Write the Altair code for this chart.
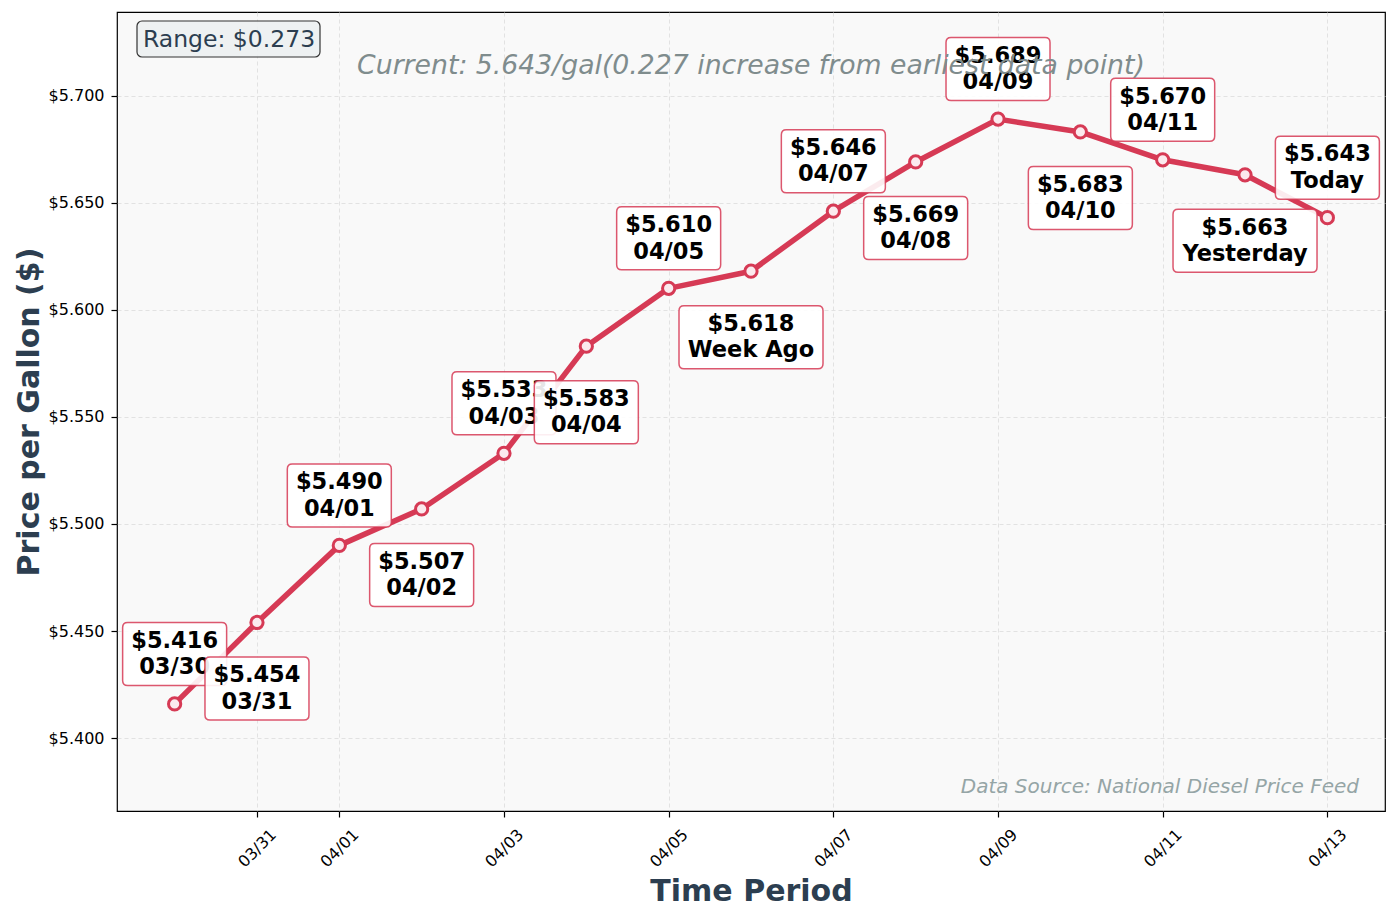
import altair as alt
import pandas as pd

# ---- data ----
dates = ["03/30", "03/31", "04/01", "04/02", "04/03", "04/04", "04/05", "04/06",
         "04/07", "04/08", "04/09", "04/10", "04/11", "04/12", "04/13"]
prices = [5.416, 5.454, 5.490, 5.507, 5.533, 5.583, 5.610, 5.618,
          5.646, 5.669, 5.689, 5.683, 5.670, 5.663, 5.643]
tags = ["03/30", "03/31", "04/01", "04/02", "04/03", "04/04", "04/05", "Week Ago",
        "04/07", "04/08", "04/09", "04/10", "04/11", "Yesterday", "Today"]
tick_dates = ["03/31", "04/01", "04/03", "04/05", "04/07", "04/09", "04/11", "04/13"]
y_ticks = [5.40, 5.45, 5.50, 5.55, 5.60, 5.65, 5.70]

RED = "#d63a55"
DARK = "#2c3e50"
FONT = "DejaVu Sans"

n = len(dates)
df = pd.DataFrame({
    "idx": list(range(n)),
    "date": dates,
    "price": prices,
    "label": [f"${p:.3f}\n{t}" for p, t in zip(prices, tags)],
})

ymin, ymax = min(prices) - 0.05, max(prices) + 0.05
tick_idx = [dates.index(d) for d in tick_dates]
dates_js = "[" + ",".join(f"'{d}'" for d in dates) + "]"

W, H = 1268, 799

x_enc = alt.X("idx:Q",
              scale=alt.Scale(domain=[-0.7, n - 1 + 0.7], nice=False, zero=False),
              axis=alt.Axis(values=tick_idx, labelExpr=f"{dates_js}[datum.value]",
                            labelAngle=-45, labelAlign="center", labelBaseline="middle",
                            labelPadding=31, labelFont=FONT, labelFontSize=16,
                            labelColor="black", labelOverlap=False,
                            tickSize=6, tickColor="black", tickWidth=1.2,
                            domain=False, grid=True, gridDash=[4, 3],
                            gridColor="#dcdcdc", gridWidth=0.8,
                            title="Time Period", titleFont=FONT, titleFontSize=30,
                            titleFontWeight="bold", titleColor=DARK,
                            titleX=W / 2, titleY=89, titleAlign="center",
                            titleBaseline="alphabetic"))
y_enc = alt.Y("price:Q",
              scale=alt.Scale(domain=[ymin, ymax], nice=False, zero=False),
              axis=alt.Axis(values=y_ticks, format="$.3f",
                            labelFont=FONT, labelFontSize=16, labelColor="black",
                            labelPadding=7, tickSize=6, tickColor="black", tickWidth=1.2,
                            domain=False, grid=True, gridDash=[4, 3],
                            gridColor="#dcdcdc", gridWidth=0.8,
                            title="Price per Gallon ($)", titleFont=FONT,
                            titleFontSize=30, titleFontWeight="bold", titleColor=DARK,
                            titleAngle=-90, titleX=-79, titleY=H / 2,
                            titleAlign="center", titleBaseline="alphabetic"))

base = alt.Chart(df).encode(x=x_enc, y=y_enc)

line = base.mark_line(color=RED, strokeWidth=5.5, strokeCap="round", strokeJoin="round")
pts = base.mark_point(filled=True, fill="#fbeaee", stroke=RED, strokeWidth=3,
                      size=150, opacity=1)


def box_path(hw, hh, r):
    return (f"M{-hw + r},{-hh} L{hw - r},{-hh} Q{hw},{-hh} {hw},{-hh + r} "
            f"L{hw},{hh - r} Q{hw},{hh} {hw - r},{hh} L{-hw + r},{hh} "
            f"Q{-hw},{hh} {-hw},{hh - r} L{-hw},{-hh + r} Q{-hw},{-hh} {-hw + r},{-hh} Z")


UNIT = 52.0  # half of sqrt(size)
PATH_N = box_path(1.0, 31.5 / UNIT, 5 / UNIT)
PATH_W = box_path(72 / UNIT, 31.5 / UNIT, 5 / UNIT)
LH = 26.5

layers = [line, pts]
for i in range(n):
    off = -50 if i % 2 == 0 else 66
    shape = PATH_W if len(tags[i]) > 5 else PATH_N
    sub = base.transform_filter(alt.datum.idx == i)
    box = sub.mark_point(shape=shape, size=(2 * UNIT) ** 2, filled=True,
                         fill="white", fillOpacity=0.9, stroke=RED,
                         strokeOpacity=0.85, strokeWidth=1.5, opacity=1, yOffset=off)
    txt = sub.mark_text(font=FONT, fontSize=22.5, fontWeight="bold", color="black",
                        lineBreak="\n", lineHeight=LH, align="center",
                        baseline="middle", dy=off - LH / 2).encode(text="label:N")
    layers += [box, txt]

# ---- annotations ----
range_txt = f"Range: ${max(prices) - min(prices):.3f}"
cur_txt = (f"Current: {prices[-1]:.3f}/gal({prices[-1] - prices[0]:.3f} "
           f"increase from earliest data point)")
src_txt = "Data Source: National Diesel Price Feed"

ann = pd.DataFrame({"r": [range_txt], "c": [cur_txt], "s": [src_txt]})
range_box = alt.Chart(ann).mark_rect(fill="#ecf0f1", fillOpacity=0.9, stroke="#333333",
                                     strokeWidth=1.2, cornerRadius=5).encode(
    x=alt.value(20), x2=alt.value(203), y=alt.value(9), y2=alt.value(45))
range_t = alt.Chart(ann).mark_text(font=FONT, fontSize=23.5, color=DARK, align="left",
                                   baseline="alphabetic").encode(
    x=alt.value(26), y=alt.value(35), text="r:N")
cur_t = alt.Chart(ann).mark_text(font=FONT, fontSize=26.7, fontStyle="italic",
                                 color="#7f8c8d", align="center",
                                 baseline="alphabetic").encode(
    x=alt.value(W / 2), y=alt.value(62), text="c:N")
src_t = alt.Chart(ann).mark_text(font=FONT, fontSize=20, fontStyle="italic",
                                 color="#95a5a6", align="right",
                                 baseline="alphabetic").encode(
    x=alt.value(1242), y=alt.value(781), text="s:N")

layers += [range_box, range_t, cur_t, src_t]

chart = alt.layer(*layers).properties(
    width=W, height=H,
    background="white",
    autosize=alt.AutoSizeParams(type="none"),
    padding={"left": 109, "top": 4, "right": 4, "bottom": 95},
).configure_view(
    fill="#f9f9f9", stroke="black", strokeWidth=1.2
)

chart.save("out.html", embed_options={"renderer": "svg", "actions": False})
